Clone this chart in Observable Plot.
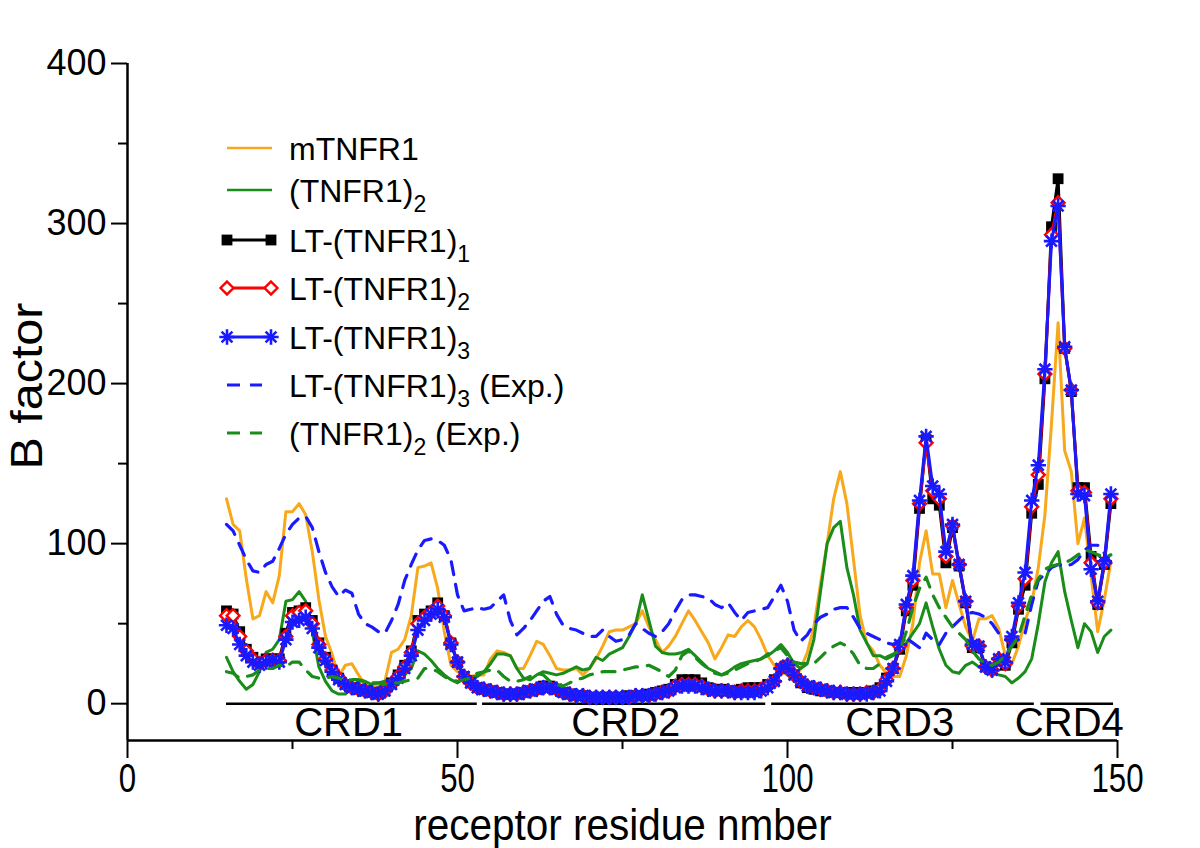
<!DOCTYPE html>
<html><head><meta charset="utf-8">
<script src="https://cdn.jsdelivr.net/npm/d3@7"></script>
<script src="https://cdn.jsdelivr.net/npm/@observablehq/plot@0.6"></script>
<style>body{margin:0;background:#fff}#chart{width:1200px;height:848px}</style>
</head><body><div id="chart"></div>
<script>
const residues = [15,16,17,18,19,
20,21,22,23,24,25,26,27,28,29,30,31,32,33,34,35,36,37,38,39,40,41,42,43,44,45,46,47,48,49,
50,51,52,53,54,55,56,57,58,59,60,61,62,63,64,65,66,67,68,69,70,71,72,73,74,75,76,77,78,79,
80,81,82,83,84,85,86,87,88,89,90,91,92,93,94,95,96,97,98,99,100,101,102,103,104,105,106,107,108,109,
110,111,112,113,114,115,116,117,118,119,120,121,122,123,124,125,126,127,128,129,130,131,132,133,134,135,136,137,138,139,
140,141,142,143,144,145,146,147,148,149];

const mTNFR1 = [128,112,108,78,53,
55,70,63,80,120,120,125,118,95,65,
42,31,17,24,25,18,12,10,11,14,
32,34,40,55,85,86,88,72,45,24,
20,18,17,18,18,28,33,32,30,22,
22,30,39,37,30,22,21,21,22,18,
22,28,36,45,46,46,48,50,58,48,
40,32,36,42,50,58,52,45,38,28,
35,43,42,48,52,48,40,30,24,20,
18,14,22,32,48,75,100,128,145,125,
90,55,38,33,24,19,17,17,30,50,
88,108,81,81,60,77,62,48,39,53,
53,55,47,30,25,36,52,63,85,118,
175,238,158,145,100,116,80,45,65,89];

const TNFR1dimer = [29,20,14,9,12,
20,32,34,40,64,65,70,64,45,23,
14,8,6,6,10,14,14,12,13,14,
15,16,18,22,33,31,27,22,18,15,
13,16,17,17,20,25,31,31,30,22,
16,15,18,20,19,18,19,21,23,21,
22,29,27,31,33,35,42,50,68,52,
36,32,31,31,32,34,30,26,22,20,
18,20,23,25,26,27,28,30,33,37,
32,25,22,25,40,70,100,110,114,85,
68,46,38,30,30,28,30,33,38,44,
50,63,48,34,24,20,19,24,26,23,
22,19,18,17,13,16,20,28,50,76,
88,95,70,52,35,50,45,32,42,46];

const LT1 = [58,56,45,34,29,
26,28,28,28,44,57,58,60,52,38,
29,21,16,12,10,9,8,7,6,8,
13,18,24,33,52,56,58,63,55,38,
26,17,13,10,9,8,7,6,6,6,
7,8,9,11,11,9,7,6,5,5,
4,4,4,4,4,4,5,5,5,6,
7,8,9,12,15,15,15,13,10,9,
9,8,8,9,10,10,10,12,15,22,
24,18,13,10,9,8,8,7,7,7,
7,7,7,8,10,16,22,34,58,74,
122,165,128,124,88,110,86,63,35,35,
23,22,27,24,38,59,74,119,137,203,
298,328,222,195,135,135,92,62,87,125];

const LT2 = [55,55,42,33,28,
25,27,27,27,42,55,57,58,50,37,
28,21,16,12,10,9,8,7,6,8,
12,17,23,32,50,54,57,61,55,38,
26,17,13,10,9,8,7,6,6,6,
7,8,9,10,10,9,7,6,5,5,
4,4,4,4,4,4,4,5,5,5,
6,7,8,11,12,12,12,11,9,8,
8,8,7,8,8,8,9,11,14,22,
24,18,14,11,10,9,8,7,7,6,
6,6,7,7,9,15,22,36,60,77,
125,163,133,128,92,111,87,64,36,36,
23,21,28,25,40,61,78,123,143,206,
293,313,222,196,133,132,88,63,88,128];

const LT3 = [49,47,37,30,26,
24,26,27,26,40,51,52,54,47,35,
27,20,15,12,10,9,8,7,6,8,
12,16,22,30,46,52,56,59,54,37,
26,17,13,10,9,8,7,6,6,6,
7,8,9,10,10,9,7,6,5,5,
4,4,4,4,4,4,4,5,5,5,
6,7,8,10,11,11,11,10,9,8,
8,8,7,7,7,7,8,10,14,22,
24,18,14,11,10,9,8,7,7,6,
6,6,6,7,8,14,22,37,62,80,
127,167,136,131,95,112,87,64,37,36,
23,21,28,26,42,63,82,127,149,209,
289,311,223,196,131,130,84,64,89,131];

const LT3exp = [112,108,99,90,83,
82,87,89,97,106,112,116,117,110,95,
82,73,67,71,69,56,50,48,45,44,
52,62,77,87,96,102,103,102,99,90,
68,58,59,60,59,60,64,68,52,43,
47,52,58,64,67,56,49,47,46,44,
42,42,46,42,39,40,43,50,47,44,
42,45,50,58,65,68,68,67,66,62,
60,63,57,52,57,58,59,60,67,74,
64,46,39,43,50,54,56,59,60,60,
54,47,44,42,40,38,37,40,41,38,
35,44,40,37,44,48,52,56,57,56,
54,50,44,40,39,40,44,62,77,81,
85,87,86,87,90,96,99,99,94,88];

const dimerExp = [20,19,16,17,18,
21,22,22,24,23,26,26,21,17,16,
16,17,16,14,15,15,14,13,13,12,
13,13,14,15,16,22,22,20,17,15,
14,15,16,19,20,21,21,17,14,14,
15,17,19,18,14,12,11,13,15,16,
18,19,20,20,20,21,22,23,23,24,
22,20,17,21,30,33,29,25,22,19,
18,19,21,23,25,26,28,31,33,35,
30,26,25,25,25,29,33,36,38,36,
31,24,22,22,25,29,31,33,45,60,
72,79,68,60,54,48,44,40,33,28,
25,24,26,30,36,42,55,68,78,84,
86,87,88,90,93,96,95,93,92,93];

const crdNames = ["CRD1","CRD2","CRD3","CRD4"];
const crdStart = [15, 53.8, 97.6, 138.4];
const crdEnd = [53, 96.7, 137.4, 149.4];
const crdLabelX = [33.5, 75.5, 117, 142.7];

const yMajor = [0,100,200,300,400];
const yMinor = [50,150,250,350];
const xMajor = [0,50,100,150];
const xMinor = [25,75,125];
const xDomain = [0,150];
const yDomain = [-23,400];
const xTitle = "receptor residue nmber";
const yTitle = "B factor";

const legendItems = [
  {base:"mTNFR1", sub:"", tail:"", color:"#f7a81b", dash:null, marker:null},
  {base:"(TNFR1)", sub:"2", tail:"", color:"#1a8c1a", dash:null, marker:null},
  {base:"LT-(TNFR1)", sub:"1", tail:"", color:"#000000", dash:null, marker:"square"},
  {base:"LT-(TNFR1)", sub:"2", tail:"", color:"#ff0000", dash:null, marker:"diamond"},
  {base:"LT-(TNFR1)", sub:"3", tail:"", color:"#1a1aff", dash:null, marker:"star"},
  {base:"LT-(TNFR1)", sub:"3", tail:" (Exp.)", color:"#1a1aff", dash:"13,10", marker:null},
  {base:"(TNFR1)", sub:"2", tail:" (Exp.)", color:"#1a8c1a", dash:"13,10", marker:null}
];

const rows = (vals) => residues.map((r,i)=>({x:r, y:vals[i]}));
const crdRows = crdNames.map((n,i)=>({name:n, x1:crdStart[i], x2:crdEnd[i], lx:crdLabelX[i], y:0}));

const FONT = "'Liberation Sans', Arial, Helvetica, sans-serif";

const orange = legendItems[0].color, green = legendItems[1].color, blue = legendItems[4].color, red = legendItems[3].color;
const dash = legendItems[5].dash;
const rSquare = 6.1, rDiamond = 5.8, rStar = 5;

const svg = Plot.plot({
  width:1200, height:848,
  marginLeft:127, marginRight:83, marginTop:63, marginBottom:108,
  x:{domain:xDomain},
  y:{domain:yDomain},
  style:{fontFamily:FONT, background:"white", color:"black", overflow:"visible"},
  marks:[
    Plot.axisY({ticks:yMajor, tickSize:16, tickPadding:5, fontSize:36, strokeWidth:2, label:null}),
    Plot.axisY({ticks:yMinor, tickSize:9, tickFormat:()=>"", strokeWidth:2, label:null}),
    Plot.axisX({ticks:xMajor, tickSize:18, tickPadding:5, fontSize:40, strokeWidth:2, label:null}),
    Plot.axisX({ticks:xMinor, tickSize:9, tickFormat:()=>"", strokeWidth:2, label:null}),
    Plot.ruleX([xDomain[0]], {stroke:"black", strokeWidth:2.5}),
    Plot.ruleY([yDomain[0]], {stroke:"black", strokeWidth:2.5}),
    Plot.text([yTitle], {frameAnchor:"left", rotate:-90, textAnchor:"middle", lineAnchor:"middle", dx:-100, dy:-16, fontSize:44}),
    Plot.text([xTitle], {frameAnchor:"bottom", lineAnchor:"middle", textAnchor:"middle", dy:85, fontSize:45}),
    Plot.ruleY(crdRows, {x1:"x1", x2:"x2", y:"y", stroke:"black", strokeWidth:2.5}),
    Plot.text(crdRows, {x:"lx", y:"y", text:"name", dy:19, fontSize:40}),
    Plot.line(rows(mTNFR1), {x:"x", y:"y", stroke:orange, strokeWidth:3}),
    Plot.line(rows(TNFR1dimer), {x:"x", y:"y", stroke:green, strokeWidth:3}),
    Plot.line(rows(LT1), {x:"x", y:"y", stroke:"black", strokeWidth:3}),
    Plot.dot(rows(LT1), {x:"x", y:"y", symbol:"square", fill:"black", r:rSquare}),
    Plot.line(rows(LT2), {x:"x", y:"y", stroke:red, strokeWidth:3}),
    Plot.dot(rows(LT2), {x:"x", y:"y", symbol:"diamond2", stroke:red, fill:"white", strokeWidth:2.4, r:rDiamond}),
    Plot.line(rows(LT3), {x:"x", y:"y", stroke:blue, strokeWidth:3}),
    Plot.dot(rows(LT3), {x:"x", y:"y", symbol:"plus", stroke:blue, strokeWidth:2.6, r:rStar}),
    Plot.dot(rows(LT3), {x:"x", y:"y", symbol:"times", stroke:blue, strokeWidth:2.6, r:rStar}),
    Plot.line(rows(LT3exp), {x:"x", y:"y", stroke:blue, strokeWidth:3.2, strokeDasharray:dash}),
    Plot.line(rows(dimerExp), {x:"x", y:"y", stroke:green, strokeWidth:3.2, strokeDasharray:dash})
  ]
});
document.getElementById("chart").appendChild(svg);

// horizontal (along-text) scaling of some texts, as in the reference
function squeeze(sel, k){
  sel.each(function(){
    const el = d3.select(this);
    const x = +el.attr("x") || 0, y = +el.attr("y") || 0;
    const tr = el.attr("transform") || "";
    el.attr("transform", `${tr} translate(${x},${y}) scale(${k},1) translate(${-x},${-y})`);
  });
}
const root = d3.select(svg);
squeeze(root.selectAll('g[aria-label="x-axis tick label"] text'), 0.78);
squeeze(root.selectAll("text").filter(function(){ return this.textContent === xTitle; }), 0.9);
squeeze(root.selectAll("text").filter(function(){ return this.textContent === yTitle; }), 1.1);

// legend
const lg = root.append("g").attr("class","legend").attr("text-anchor","start");
const lineY = [148,190,240,288,337,385,433];
legendItems.forEach((it,i)=>{
  const y = lineY[i];
  const x0 = 227, x1 = it.dash ? 262 : (it.marker ? 271 : 272);
  lg.append("line").attr("x1",x0).attr("x2",x1).attr("y1",y).attr("y2",y)
    .attr("stroke",it.color).attr("stroke-width",it.dash?3.2:(it.marker?3:2.6))
    .attr("stroke-dasharray",it.dash);
  if (it.marker){
    [x0,x1].forEach(mx=>{
      if (it.marker==="square"){
        lg.append("path").attr("d",d3.symbol(d3.symbolSquare, Math.PI*rSquare*rSquare)()).attr("transform",`translate(${mx},${y})`).attr("fill","black");
      } else if (it.marker==="diamond"){
        lg.append("path").attr("d",d3.symbol(d3.symbolDiamond2, Math.PI*rDiamond*rDiamond)()).attr("transform",`translate(${mx},${y})`).attr("fill","white").attr("stroke",it.color).attr("stroke-width",2.4);
      } else {
        [d3.symbolPlus,d3.symbolTimes].forEach(s=>lg.append("path").attr("d",d3.symbol(s, Math.PI*rStar*rStar)()).attr("transform",`translate(${mx},${y})`).attr("fill","none").attr("stroke",it.color).attr("stroke-width",2.6));
      }
    });
  }
  const t = lg.append("text").attr("x",289).attr("y",y+12).attr("font-size",32).attr("font-family",FONT).attr("fill","black").attr("text-anchor","start");
  t.append("tspan").text(it.base);
  if (it.sub) t.append("tspan").attr("font-size",23).attr("dy",10).text(it.sub);
  if (it.tail) t.append("tspan").attr("font-size",32).attr("dy",-10).text(it.tail);
});
</script></body></html>
